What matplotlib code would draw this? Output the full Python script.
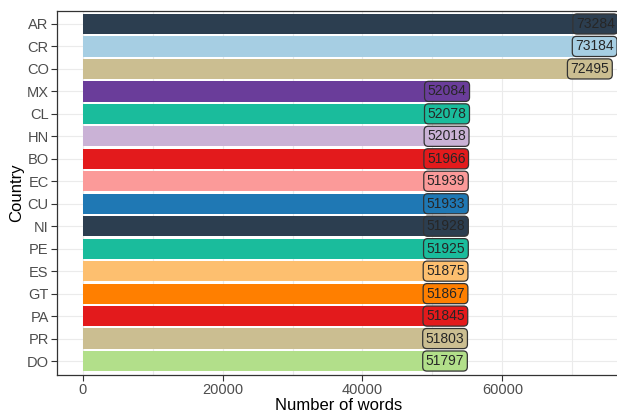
import matplotlib.pyplot as plt
from matplotlib.ticker import MultipleLocator
import numpy as np

plt.rcParams['font.family'] = ['Liberation Sans', 'DejaVu Sans']

countries = ['AR', 'CR', 'CO', 'MX', 'CL', 'HN', 'BO', 'EC', 'CU', 'NI', 'PE', 'ES', 'GT', 'PA', 'PR', 'DO']
words = [73284, 73184, 72495, 52084, 52078, 52018, 51966, 51939, 51933, 51928, 51925, 51875, 51867, 51845, 51803, 51797]
colors = ['#2C3E50', '#A6CEE3', '#CBBE91', '#6A3D9A', '#1ABC9C', '#CAB2D6', '#E31A1C', '#FB9A99',
          '#1F78B4', '#2C3E50', '#1ABC9C', '#FDBF6F', '#FF7F00', '#E31A1C', '#CBBE91', '#B2DF8A']

fig = plt.figure(figsize=(6.17, 4.12), dpi=100)
ax = fig.add_axes([57 / 617, 1 - 374.5 / 412, (621 - 57) / 617, (374.5 - 10.5) / 412])

y = np.arange(len(countries))[::-1] + 1
ax.barh(y, words, height=0.9, color=colors, zorder=2)

for yi, w, c in zip(y, words, colors):
    ax.text(w, yi, str(w), ha='center', va='center', fontsize=10, color='#262626', zorder=3,
            bbox=dict(boxstyle='round,pad=0.22,rounding_size=0.3', fc=c, ec='#333333', lw=0.9))

span = max(words)
ax.set_xlim(-span * 0.05, span * 1.05)
ax.set_ylim(0.4, len(countries) + 0.6)
ax.set_yticks(y)
ax.set_yticklabels(countries)
ax.xaxis.set_major_locator(MultipleLocator(20000))
ax.xaxis.set_minor_locator(MultipleLocator(10000))
ax.grid(True, which='both', color='#ebebeb', lw=0.8, zorder=0)
ax.set_axisbelow(True)
for s in ax.spines.values():
    s.set_color('#333333')
    s.set_linewidth(0.9)
ax.tick_params(which='major', colors='#333333', labelcolor='#4d4d4d', labelsize=10.5, length=4, pad=2)
ax.tick_params(which='minor', length=0)
ax.set_xlabel('Number of words', fontsize=12, labelpad=1)
ax.set_ylabel('Country', fontsize=12, labelpad=2)

fig.savefig('out.png', dpi=100)
